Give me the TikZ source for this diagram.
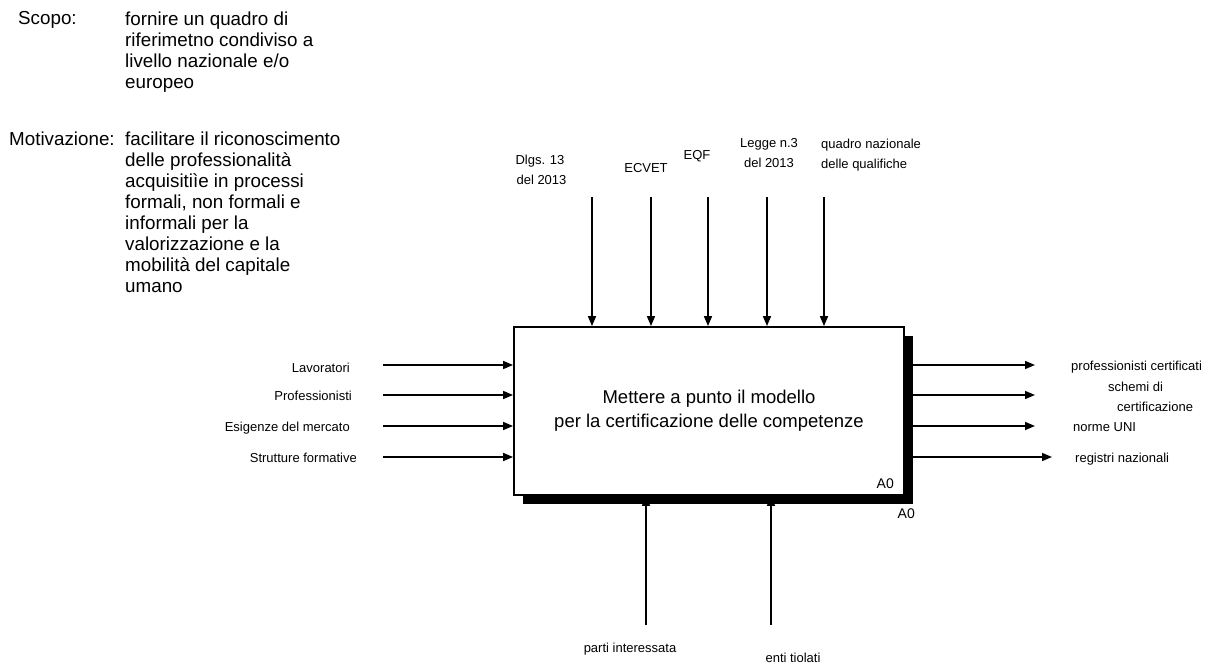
\documentclass[tikz,border=0pt]{standalone}
\usepackage{fontspec}
\setmainfont{Liberation Sans}
\usetikzlibrary{arrows.meta,shadows}
\tikzset{
  flow/.style={line width=1.6pt,-{Triangle[length=10pt,width=8pt]}},
  lbl/.style={inner sep=0pt,align=left,font=\fontsize{13}{20}\selectfont},
  note/.style={inner sep=0pt,align=left,font=\fontsize{18.8}{21}\selectfont},
  idef/.style={draw,line width=1.8pt,fill=white,minimum width=390pt,minimum height=168pt,
    align=center,font=\fontsize{18.5}{24}\selectfont,
    drop shadow={shadow xshift=9pt,shadow yshift=-9pt,opacity=1,fill=black}},
  tag/.style={inner sep=0pt,font=\fontsize{14}{16}\selectfont}
}
\begin{document}
\begin{tikzpicture}[x=1pt,y=-1pt]
\useasboundingbox (0,0) rectangle (1216,663);
% scopo / motivazione
\node[note,anchor=north west] (scopo) at (18,11.3) {Scopo:};
\node[note,anchor=north west] (scopotxt) at (125,11.3) {fornire un quadro di\\riferimetno condiviso a\\livello nazionale e/o\\europeo};
\node[note,anchor=north west] (motiv) at (9,131.5) {Motivazione:};
\node[note,anchor=north west] (motivtxt) at (125,131.3) {facilitare il riconoscimento\\delle professionalità\\acquisitiìe in processi\\formali, non formali e\\informali per la\\valorizzazione e la\\mobilità del capitale\\umano};
% activity box
\node[idef] (box) at (709,411) {Mettere a punto il modello\\per la certificazione delle competenze};
\node[tag,anchor=base east] (a0in) at (894,488) {A0};
\node[tag,anchor=base east] (a0out) at (915,518) {A0};
% controls
\foreach \x/\n in {592/t1,651/t2,708/t3,767/t4,824/t5}{
  \coordinate (\n) at (\x,197); \draw[flow] (\n) -- (\n |- box.north);}
\node[lbl,align=center,anchor=north] (dlgs) at (540,154.5) {Dlgs. 13\\\hspace*{3pt}del 2013};
\node[lbl,anchor=base] (ecvet) at (646,173) {ECVET};
\node[lbl,anchor=base] (eqf) at (697,160) {EQF};
\node[lbl,align=center,anchor=north] (legge) at (769,138.5) {Legge n.3\\del 2013};
\node[lbl,anchor=north west] (quadro) at (821,138.5) {quadro nazionale\\delle qualifiche};
% inputs
\foreach \y/\n in {365/l1,395/l2,426/l3,457/l4}{
  \coordinate (\n) at (383,\y); \draw[flow] (\n) -- (\n -| box.west);}
\node[lbl,anchor=base east] (lav) at (350,372) {Lavoratori};
\node[lbl,anchor=base east] (prof) at (352,400) {Professionisti};
\node[lbl,anchor=base east] (esig) at (350,431) {Esigenze del mercato};
\node[lbl,anchor=base east] (strut) at (357,462) {Strutture formative};
% outputs
\foreach \y/\e/\n in {365/1035/r1,395/1035/r2,426/1035/r3,457/1052/r4}{
  \coordinate (\n) at (\e,\y); \draw[flow] (\n -| box.east) -- (\n);}
\node[lbl,anchor=base west] (profcert) at (1071,370) {professionisti certificati};
\node[lbl,anchor=north west] (schemi) at (1108,381.5) {schemi di\\\hspace*{9pt}certificazione};
\node[lbl,anchor=base west] (norme) at (1073,431) {norme UNI};
\node[lbl,anchor=base west] (registri) at (1075,462) {registri nazionali};
% mechanisms
\foreach \x/\n in {646/b1,771/b2}{
  \coordinate (\n) at (\x,625); \draw[flow] (\n) -- (\n |- box.south);}
\node[lbl,anchor=base] (parti) at (630,652) {parti interessata};
\node[lbl,anchor=base] (enti) at (793,662) {enti tiolati};
\end{tikzpicture}
\end{document}
